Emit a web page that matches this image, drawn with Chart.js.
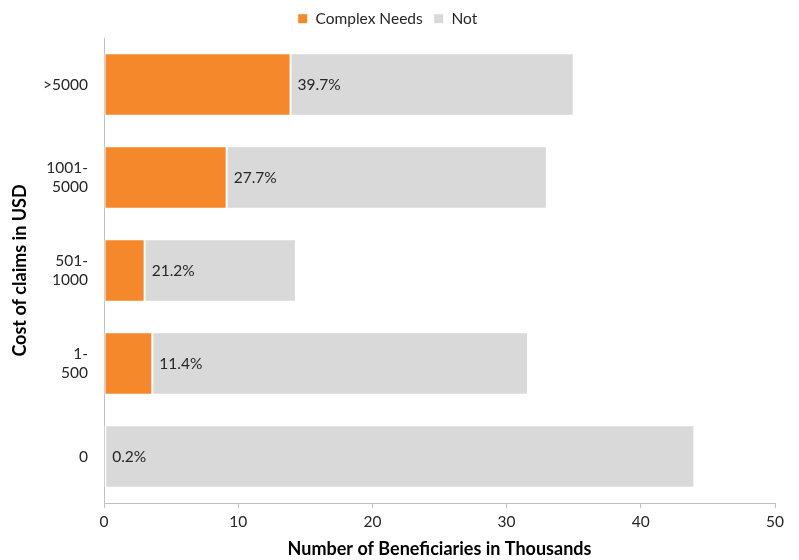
<!DOCTYPE html>
<html lang="en">
<head>
    <meta charset="UTF-8">
    <title>Cost of claims</title>
    <script src="https://cdn.jsdelivr.net/npm/chart.js"></script>
    <style>
        body { margin: 0; background: #fff; }
        .wrap { width: 799px; height: 560px; }
    </style>
</head>
<body>
    <div class="wrap"><canvas id="claimsChart"></canvas></div>
    <script>
        // data (thousands of beneficiaries)
        const categories = [['>5000'], ['1001-', '5000'], ['501-', '1000'], ['1-', '500'], ['0']];
        const complexNeeds = [13.9, 9.14, 3.03, 3.6, 0.09];
        const notComplex = [21.1, 23.86, 11.27, 28.0, 43.9];
        const pctLabels = ['39.7%', '27.7%', '21.2%', '11.4%', '0.2%'];
        const xTicks = [0, 10, 20, 30, 40, 50];

        const FONT = 'Lato, "Open Sans", sans-serif';

        // legend height fixed so the plot starts where the reference does
        const legendHeight = {
            id: 'legendHeight',
            beforeInit(chart) {
                const fit = chart.legend.fit;
                chart.legend.fit = function () {
                    fit.bind(chart.legend)();
                    this.height = 38;
                };
            }
        };

        // percent text at the start of the grey segment
        const pctText = {
            id: 'pctText',
            afterDatasetsDraw(chart) {
                const ctx = chart.ctx;
                const meta = chart.getDatasetMeta(1);
                ctx.save();
                ctx.font = '15.5px ' + FONT;
                ctx.fillStyle = '#262626';
                ctx.textAlign = 'left';
                ctx.textBaseline = 'middle';
                meta.data.forEach((el, i) => {
                    ctx.fillText(pctLabels[i], el.base + 7, el.y);
                });
                ctx.restore();
            }
        };

        const ctx = document.getElementById('claimsChart').getContext('2d');
        new Chart(ctx, {
            type: 'bar',
            data: {
                labels: categories,
                datasets: [
                    {
                        label: 'Complex Needs',
                        data: complexNeeds,
                        backgroundColor: '#F5882A',
                        borderColor: '#ffffff',
                        borderWidth: 1,
                        borderSkipped: false
                    },
                    {
                        label: 'Not',
                        data: notComplex,
                        backgroundColor: '#D9D9D9',
                        borderColor: '#ffffff',
                        borderWidth: 1,
                        borderSkipped: false
                    }
                ]
            },
            options: {
                indexAxis: 'y',
                responsive: true,
                maintainAspectRatio: false,
                animation: false,
                layout: { padding: { left: 0, right: 24, top: 0, bottom: 0 } },
                categoryPercentage: 0.67,
                barPercentage: 1.0,
                plugins: {
                    tooltip: { enabled: false },
                    legend: {
                        position: 'top',
                        labels: {
                            boxWidth: 10,
                            boxHeight: 10,
                            padding: 11,
                            color: '#262626',
                            font: { family: FONT, size: 15.5 }
                        }
                    }
                },
                scales: {
                    x: {
                        stacked: true,
                        min: 0,
                        max: 50,
                        afterBuildTicks(scale) {
                            scale.ticks = xTicks.map(v => ({ value: v }));
                        },
                        afterFit(scale) { scale.height = 57; },
                        grid: { drawOnChartArea: false, drawTicks: true, tickLength: 5, color: '#BFBFBF' },
                        border: { display: true, color: '#BFBFBF', width: 1 },
                        ticks: { color: '#262626', padding: 5, font: { family: FONT, size: 15.5 } },
                        title: {
                            display: true,
                            text: 'Number of Beneficiaries in Thousands',
                            color: '#000',
                            padding: { top: 2, bottom: 0 },
                            font: { family: FONT, size: 18, weight: 'bold' }
                        }
                    },
                    y: {
                        stacked: true,
                        afterFit(scale) { scale.width = 104; },
                        grid: { display: false },
                        border: { display: true, color: '#BFBFBF', width: 1 },
                        ticks: { color: '#262626', padding: 8, font: { family: FONT, size: 15.5 } },
                        title: {
                            display: true,
                            text: 'Cost of claims in USD',
                            color: '#000',
                            padding: { top: 9, bottom: 0 },
                            font: { family: FONT, size: 18, weight: 'bold' }
                        }
                    }
                }
            },
            plugins: [legendHeight, pctText]
        });
    </script>
</body>
</html>
